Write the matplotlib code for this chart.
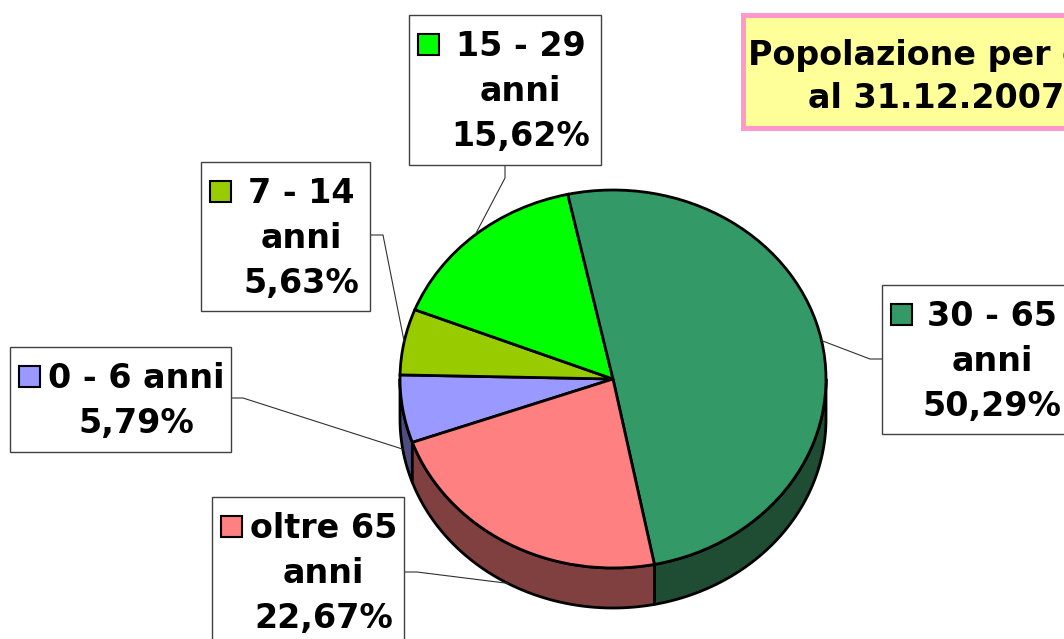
import numpy as np
import matplotlib.pyplot as plt
from matplotlib.patches import Rectangle, Polygon

# ------------------------------------------------------------------
# Data
# ------------------------------------------------------------------
categories = ['0 - 6 anni', '7 - 14 anni', '15 - 29 anni', '30 - 65 anni', 'oltre 65 anni']
label_text = ['0 - 6 anni', '7 - 14\nanni', '15 - 29\nanni', '30 - 65\nanni', 'oltre 65\nanni']
values = [5.79, 5.63, 15.62, 50.29, 22.67]
top_colors = ['#9999FF', '#99CC00', '#00FF00', '#339966', '#FF8080']
side_colors = ['#4D4D80', '#4D6600', '#008000', '#1E4D34', '#804040']
title = 'Popolazione per età\nal 31.12.2007'

# ------------------------------------------------------------------
# Layout (pixels, origin top-left)
# ------------------------------------------------------------------
W, H = 1064, 639
CX, CY = 613, 379      # centre of the top face
RX, RY = 213, 189      # ellipse radii
DEPTH = 40 / RY        # pie thickness in data units

# label boxes: left, top, right, bottom
boxes = [(10, 347, 231, 452),
         (201, 162, 370, 311),
         (409, 15, 601, 165),
         (882, 285, 1071, 434),
         (212, 497, 404, 645)]
# leader lines: point on box, elbow
leaders = [((231, 398), (243, 398)),
           ((370, 235), (383, 235)),
           ((505, 165), (505, 178)),
           ((882, 359), (870, 359)),
           ((404, 572), (417, 572))]


def px(x, y):
    return (x - CX) / RX, (CY - y) / RY


fig = plt.figure(figsize=(W / 100, H / 100), dpi=100)
ax = fig.add_axes([0, 0, 1, 1])

wedges, _ = ax.pie(values, colors=top_colors, startangle=-160.4, counterclock=False,
                   wedgeprops=dict(edgecolor='black', linewidth=2))
for w in wedges:
    w.set_zorder(3)

# side walls of the front half
for w, c in zip(wedges, side_colors):
    t1, t2 = w.theta1, w.theta2
    for k in (-360, 0, 360):
        lo, hi = max(t1, -180 + k), min(t2, k)
        if hi - lo <= 0:
            continue
        t = np.radians(np.linspace(lo, hi, 120))
        top = np.column_stack([np.cos(t), np.sin(t)])
        bot = np.column_stack([np.cos(t), np.sin(t) - DEPTH])[::-1]
        ax.add_patch(Polygon(np.vstack([top, bot]), closed=True, facecolor=c,
                             edgecolor='black', linewidth=2, joinstyle='round', zorder=2))

ax.set_aspect('auto')
ax.set_xlim(-CX / RX, (W - CX) / RX)
ax.set_ylim((CY - H) / RY, CY / RY)
ax.axis('off')

font = dict(family='DejaVu Sans', fontweight='bold', fontsize=24, color='black')

# label boxes with legend keys
for i, w in enumerate(wedges):
    l, t, r, b = boxes[i]
    x0, y0 = px(l, b)
    x1, y1 = px(r, t)
    ax.add_patch(Rectangle((x0, y0), x1 - x0, y1 - y0, facecolor='white',
                           edgecolor='#404040', linewidth=1, zorder=5))
    lines = label_text[i].split('\n') + [f"{values[i]:.2f}".replace('.', ',') + '%']
    base = t + 41
    kx0, ky0 = px(l + 9, base - 1)
    kx1, ky1 = px(l + 30, base - 22)
    ax.add_patch(Rectangle((kx0, ky0), kx1 - kx0, ky1 - ky0, facecolor=top_colors[i],
                           edgecolor='black', linewidth=1.5, zorder=6))
    tx = (l + 31 + r) / 2
    for j, line in enumerate(lines):
        ax.text(*px(tx, base + 45 * j), line, ha='center', va='baseline', zorder=6, **font)

    # leader line to the wedge middle
    mid = np.radians((w.theta1 + w.theta2) / 2)
    ax_, ay_ = np.cos(mid), np.sin(mid)
    if ay_ < 0:
        ay_ -= DEPTH
    (p0, p1) = leaders[i]
    xs = [px(*p0)[0], px(*p1)[0], ax_]
    ys = [px(*p0)[1], px(*p1)[1], ay_]
    ax.plot(xs, ys, color='#303030', linewidth=0.8, zorder=4)

# title box
x0, y0 = px(743, 128)
x1, y1 = px(1131, 15)
ax.add_patch(Rectangle((x0, y0), x1 - x0, y1 - y0, facecolor='#FFFF99',
                       edgecolor='#FF99CC', linewidth=3.6, zorder=5))
for j, line in enumerate(title.split('\n')):
    ax.text(*px(936, 65 + 43 * j), line, ha='center', va='baseline', zorder=6, **font)

fig.savefig('out.png', dpi=100)
